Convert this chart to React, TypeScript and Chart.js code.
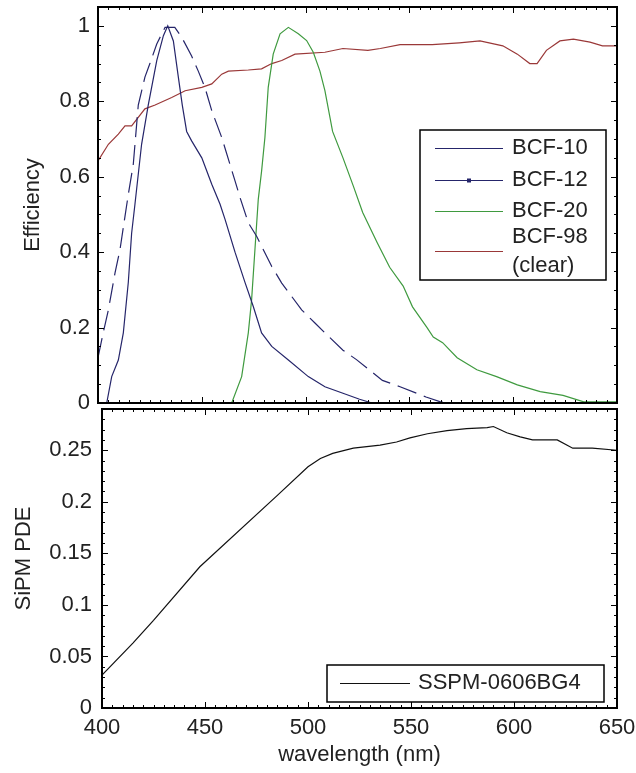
import React, { useEffect, useRef } from "react";
import { Chart, registerables } from "chart.js";

Chart.register(...registerables);

// ---------- data ----------
const X_TICKS = [400, 450, 500, 550, 600, 650];
const X_LABELS = ["400", "450", "500", "550", "600", "650"];
const TOP_Y_TICKS = [0, 0.2, 0.4, 0.6, 0.8, 1];
const TOP_Y_LABELS = ["0", "0.2", "0.4", "0.6", "0.8", "1"];
const BOTTOM_Y_TICKS = [0, 0.05, 0.1, 0.15, 0.2, 0.25];
const BOTTOM_Y_LABELS = ["0", "0.05", "0.1", "0.15", "0.2", "0.25"];

const BCF10_NM = [404.2, 406.6, 409.8, 412.2, 414.6, 416.2, 417.8, 421, 424.2, 428.3, 431.5, 433.6, 436.3, 438.7, 440.6, 442.7, 445.1, 450, 454.8, 458.8, 461.2, 466, 470.8, 474.8, 478.8, 483.7, 491.7, 501.3, 509.3, 518, 526, 532];
const BCF10_EFF = [0, 0.07, 0.114, 0.186, 0.32, 0.45, 0.527, 0.686, 0.79, 0.908, 0.974, 1.0, 0.96, 0.864, 0.79, 0.72, 0.695, 0.65, 0.58, 0.527, 0.487, 0.4, 0.32, 0.256, 0.186, 0.15, 0.114, 0.07, 0.043, 0.026, 0.01, 0];

const BCF12_NM = [400, 402.5, 405, 408.2, 410.6, 413, 414.6, 417, 419.4, 422.6, 425, 428.3, 432.3, 437, 440.3, 445.1, 448.3, 451.5, 454.8, 459.6, 466, 468.4, 472.4, 476.4, 483.7, 488.5, 498.1, 504.5, 509.3, 518, 524.5, 537, 545.5, 558, 565, 571];
const BCF12_EFF = [0.12, 0.186, 0.247, 0.345, 0.407, 0.495, 0.553, 0.633, 0.79, 0.864, 0.9, 0.952, 0.996, 0.996, 0.97, 0.92, 0.88, 0.837, 0.775, 0.704, 0.589, 0.545, 0.478, 0.442, 0.362, 0.318, 0.247, 0.212, 0.186, 0.14, 0.115, 0.06, 0.043, 0.016, 0.003, 0];

const BCF20_NM = [464.4, 469.2, 472.4, 474, 475.6, 477.2, 478.8, 480.4, 482, 484.4, 487.7, 491.7, 496.5, 500.5, 503.7, 506.9, 509.3, 513, 518, 523, 527.5, 534.5, 540.5, 547, 551.5, 558.5, 561.5, 566, 573, 582.5, 592, 602, 613, 624, 634, 650];
const BCF20_EFF = [0, 0.07, 0.186, 0.274, 0.407, 0.54, 0.615, 0.704, 0.837, 0.925, 0.979, 0.996, 0.979, 0.961, 0.93, 0.88, 0.828, 0.72, 0.65, 0.575, 0.505, 0.425, 0.36, 0.31, 0.255, 0.2, 0.175, 0.16, 0.12, 0.088, 0.07, 0.048, 0.03, 0.02, 0.003, 0.003];

const BCF98_NM = [400, 405, 409.8, 413, 416.2, 422.6, 427.5, 435.5, 442, 450, 454.8, 459.6, 462.8, 472.4, 478.8, 483.7, 488.5, 494.9, 509.3, 518, 530, 536, 545.5, 561, 574, 584, 595, 602, 608, 611.5, 616, 622.5, 629, 637, 643, 650];
const BCF98_EFF = [0.642, 0.686, 0.713, 0.735, 0.735, 0.78, 0.79, 0.81, 0.828, 0.837, 0.846, 0.872, 0.88, 0.883, 0.886, 0.9, 0.908, 0.925, 0.93, 0.94, 0.935, 0.94, 0.95, 0.95, 0.955, 0.96, 0.947, 0.925, 0.9, 0.9, 0.935, 0.96, 0.965, 0.957, 0.947, 0.947];

const SIPM_NM = [400, 415, 425, 447.5, 485, 500, 506, 512, 522, 535, 543, 549.5, 558, 567.5, 577, 587, 590, 596.5, 603, 609, 621, 628.5, 638, 650];
const SIPM_PDE = [0.032, 0.063, 0.085, 0.137, 0.206, 0.234, 0.242, 0.247, 0.252, 0.255, 0.258, 0.262, 0.266, 0.269, 0.271, 0.272, 0.273, 0.267, 0.263, 0.26, 0.26, 0.252, 0.252, 0.25];

// ---------- styles ----------
const FONT_FAMILY = "'Liberation Sans', Arial, Helvetica, sans-serif";
const TEXT_COLOR = "#222";
const NAVY = "#25256a";
const GREEN = "#3f9a3f";
const RED = "#9a3838";
const BLACK = "#111";

const W = 636;
const H = 773;

const pts = (xs: number[], ys: number[]) => xs.map((x, i) => ({ x, y: ys[i] }));

const framePlugin = {
  id: "frame",
  afterDatasetsDraw(chart: any, _args: any, opts: any) {
    const { ctx, chartArea: a, scales } = chart;
    const xs = scales.x;
    const ys = scales.y;
    ctx.save();
    ctx.strokeStyle = "#000";
    ctx.lineWidth = 1;
    const line = (x1: number, y1: number, x2: number, y2: number) => {
      ctx.beginPath();
      ctx.moveTo(x1, y1);
      ctx.lineTo(x2, y2);
      ctx.stroke();
    };
    const isMajor = (v: number, step: number) => Math.abs(v / step - Math.round(v / step)) < 1e-6;
    const nx = Math.round((xs.max - xs.min) / opts.xMinor);
    for (let i = 0; i <= nx; i++) {
      const v = xs.min + i * opts.xMinor;
      const px = Math.round(xs.getPixelForValue(v)) + 0.5;
      const len = isMajor(v, opts.xMajor) ? 6 : 3;
      line(px, a.bottom, px, a.bottom - len);
      line(px, a.top, px, a.top + len);
    }
    const ny = Math.floor((ys.max - ys.min) / opts.yMinor + 1e-6);
    for (let i = 0; i <= ny; i++) {
      const v = ys.min + i * opts.yMinor;
      const py = Math.round(ys.getPixelForValue(v)) + 0.5;
      const len = isMajor(v, opts.yMajor) ? 6 : 3;
      line(a.left, py, a.left + len, py);
      line(a.right, py, a.right - len, py);
    }
    ctx.lineWidth = 2;
    ctx.strokeRect(a.left, a.top, a.right - a.left, a.bottom - a.top);
    ctx.restore();
  },
};

const boxLegendPlugin = {
  id: "boxLegend",
  afterDraw(chart: any, _args: any, opts: any) {
    const { ctx } = chart;
    const b = opts.box;
    ctx.save();
    ctx.fillStyle = "#fff";
    ctx.fillRect(b.left, b.top, b.right - b.left, b.bottom - b.top);
    ctx.strokeStyle = "#000";
    ctx.lineWidth = 1.5;
    ctx.strokeRect(b.left, b.top, b.right - b.left, b.bottom - b.top);
    ctx.font = `22px ${FONT_FAMILY}`;
    ctx.textBaseline = "middle";
    ctx.textAlign = "left";
    chart.data.datasets.forEach((ds: any, i: number) => {
      const y = opts.rows[i];
      ctx.strokeStyle = ds.borderColor;
      ctx.lineWidth = 1.2;
      ctx.setLineDash([]);
      ctx.beginPath();
      ctx.moveTo(opts.lineX1, y + 0.5);
      ctx.lineTo(opts.lineX2, y + 0.5);
      ctx.stroke();
      if (ds.legendMarker) {
        ctx.fillStyle = ds.borderColor;
        const cx = (opts.lineX1 + opts.lineX2) / 2;
        ctx.fillRect(cx - 2, y - 1.5, 4, 4);
      }
      const lines = String(ds.label).split("\n");
      const lh = 29;
      ctx.fillStyle = TEXT_COLOR;
      lines.forEach((t: string, k: number) => {
        ctx.fillText(t, opts.textX, y - ((lines.length - 1) * lh) / 2 + k * lh);
      });
    });
    ctx.restore();
  },
};

const tickFont = { family: FONT_FAMILY, size: 22 };

function makeTopConfig(): any {
  return {
    type: "line",
    data: {
      datasets: [
        { label: "BCF-10", data: pts(BCF10_NM, BCF10_EFF), borderColor: NAVY, borderWidth: 1.2 },
        { label: "BCF-12", data: pts(BCF12_NM, BCF12_EFF), borderColor: NAVY, borderWidth: 1.2, borderDash: [20, 8], legendMarker: true },
        { label: "BCF-20", data: pts(BCF20_NM, BCF20_EFF), borderColor: GREEN, borderWidth: 1.2 },
        { label: "BCF-98\n(clear)", data: pts(BCF98_NM, BCF98_EFF), borderColor: RED, borderWidth: 1.2 },
      ],
    },
    options: {
      animation: false,
      responsive: false,
      events: [],
      elements: { point: { radius: 0 }, line: { tension: 0 } },
      layout: { autoPadding: false, padding: { left: 0, top: 7, right: W - 617, bottom: H - 403 } },
      plugins: {
        legend: { display: false },
        tooltip: { enabled: false },
        frame: { xMinor: 5, xMajor: 50, yMinor: 0.05, yMajor: 0.2 },
        boxLegend: {
          box: { left: 420, top: 130, right: 606, bottom: 280 },
          rows: [148, 180, 211, 251],
          lineX1: 435,
          lineX2: 503,
          textX: 512,
        },
      },
      scales: {
        x: {
          type: "linear",
          min: 400,
          max: 650,
          afterBuildTicks: (s: any) => { s.ticks = X_TICKS.map((v) => ({ value: v })); },
          ticks: { display: false },
          grid: { display: false, drawTicks: false, tickLength: 0 },
          border: { display: false },
          afterFit: (s: any) => { s.height = 0; s.paddingLeft = 0; s.paddingRight = 0; s.paddingTop = 0; s.paddingBottom = 0; },
        },
        y: {
          type: "linear",
          min: 0,
          max: 1.05,
          afterBuildTicks: (s: any) => { s.ticks = TOP_Y_TICKS.map((v) => ({ value: v })); },
          ticks: { font: tickFont, color: TEXT_COLOR, padding: 8, callback: (_v: any, i: number) => TOP_Y_LABELS[i] },
          grid: { display: false, drawTicks: false, tickLength: 0 },
          border: { display: false },
          title: { display: true, text: "Efficiency", font: tickFont, color: TEXT_COLOR, padding: { top: 20, bottom: 0 } },
          afterFit: (s: any) => { s.width = 98; s.paddingTop = 0; s.paddingBottom = 0; s.paddingLeft = 0; s.paddingRight = 0; },
        },
      },
    },
    plugins: [framePlugin, boxLegendPlugin],
  };
}

function makeBottomConfig(): any {
  return {
    type: "line",
    data: {
      datasets: [
        { label: "SSPM-0606BG4", data: pts(SIPM_NM, SIPM_PDE), borderColor: BLACK, borderWidth: 1.2 },
      ],
    },
    options: {
      animation: false,
      responsive: false,
      events: [],
      elements: { point: { radius: 0 }, line: { tension: 0 } },
      layout: { autoPadding: false, padding: { left: 0, top: 409, right: W - 617, bottom: 0 } },
      plugins: {
        legend: { display: false },
        tooltip: { enabled: false },
        frame: { xMinor: 5, xMajor: 50, yMinor: 0.01, yMajor: 0.05 },
        boxLegend: {
          box: { left: 327, top: 665, right: 604, bottom: 702 },
          rows: [683],
          lineX1: 340,
          lineX2: 410,
          textX: 418,
        },
      },
      scales: {
        x: {
          type: "linear",
          min: 400,
          max: 650,
          afterBuildTicks: (s: any) => { s.ticks = X_TICKS.map((v) => ({ value: v })); },
          ticks: { font: tickFont, color: TEXT_COLOR, padding: 7, maxRotation: 0, callback: (_v: any, i: number) => X_LABELS[i] },
          grid: { display: false, drawTicks: false, tickLength: 0 },
          border: { display: false },
          title: { display: true, text: "wavelength (nm)", font: tickFont, color: TEXT_COLOR, padding: { top: 0, bottom: 5 } },
          afterFit: (s: any) => { s.height = H - 708; s.paddingLeft = 0; s.paddingRight = 0; s.paddingTop = 0; s.paddingBottom = 0; },
        },
        y: {
          type: "linear",
          min: 0,
          max: 0.29,
          afterBuildTicks: (s: any) => { s.ticks = BOTTOM_Y_TICKS.map((v) => ({ value: v })); },
          ticks: { font: tickFont, color: TEXT_COLOR, padding: 10, callback: (_v: any, i: number) => BOTTOM_Y_LABELS[i] },
          grid: { display: false, drawTicks: false, tickLength: 0 },
          border: { display: false },
          title: { display: true, text: "SiPM PDE", font: tickFont, color: TEXT_COLOR, padding: { top: 11, bottom: 0 } },
          afterFit: (s: any) => { s.width = 102; s.paddingTop = 0; s.paddingBottom = 0; s.paddingLeft = 0; s.paddingRight = 0; },
        },
      },
    },
    plugins: [framePlugin, boxLegendPlugin],
  };
}

export default function App() {
  const topRef = useRef<HTMLCanvasElement | null>(null);
  const bottomRef = useRef<HTMLCanvasElement | null>(null);

  useEffect(() => {
    Chart.defaults.font.family = FONT_FAMILY;
    const top = new Chart(topRef.current as HTMLCanvasElement, makeTopConfig());
    const bottom = new Chart(bottomRef.current as HTMLCanvasElement, makeBottomConfig());
    return () => {
      top.destroy();
      bottom.destroy();
    };
  }, []);

  const canvasStyle: React.CSSProperties = { position: "absolute", left: 0, top: 0, width: W, height: H };
  return (
    <div style={{ position: "absolute", left: 0, top: 0, width: W, height: H, background: "#fff" }}>
      <canvas ref={bottomRef} width={W} height={H} style={canvasStyle} />
      <canvas ref={topRef} width={W} height={H} style={canvasStyle} />
    </div>
  );
}
